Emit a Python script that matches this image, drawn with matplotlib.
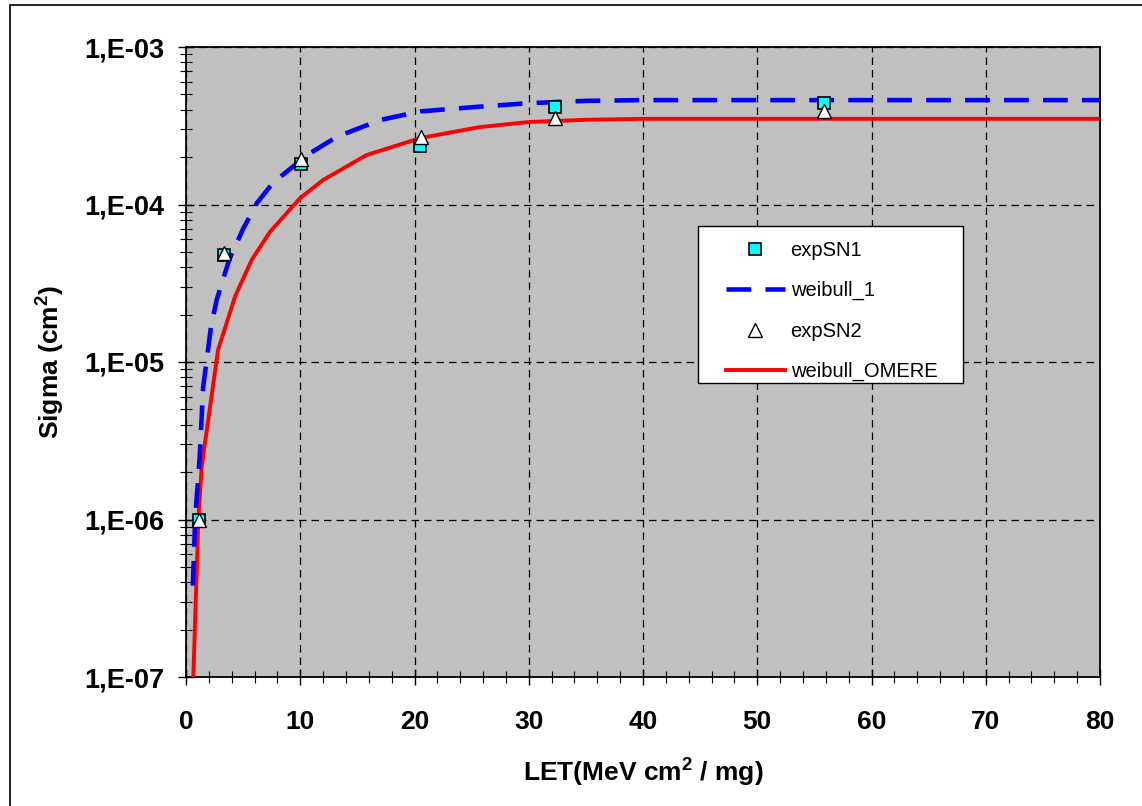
import numpy as np
import matplotlib
matplotlib.use('Agg')
import matplotlib.pyplot as plt
from matplotlib.patches import Rectangle
from matplotlib.ticker import FixedLocator, FixedFormatter, MultipleLocator

# experimental points (LET, sigma)
exp1_x = [1.1, 3.3, 10.1, 20.5, 32.3, 55.8]
exp1_y = [1.0e-6, 4.8e-5, 1.8e-4, 2.35e-4, 4.15e-4, 4.4e-4]
exp2_x = [1.1, 3.3, 10.1, 20.6, 32.3, 55.8]
exp2_y = [1.0e-6, 4.9e-5, 1.95e-4, 2.7e-4, 3.55e-4, 3.95e-4]

# weibull fits
wb1_x = [0.6, 0.8, 1.2, 1.5, 2.2, 2.7, 3.8, 5.0, 6.2, 7.6, 10.6, 13.2, 17.0, 20.5,
         25.7, 30.0, 35.0, 40.0, 50.0, 60.0, 70.0, 80.0]
wb1_y = [3.8e-7, 1.0e-6, 2.5e-6, 6.9e-6, 1.7e-5, 2.5e-5, 4.5e-5, 7.0e-5, 1.02e-4,
         1.37e-4, 2.06e-4, 2.69e-4, 3.44e-4, 3.9e-4, 4.18e-4, 4.4e-4, 4.55e-4,
         4.6e-4, 4.6e-4, 4.6e-4, 4.6e-4, 4.6e-4]
wbo_x = [0.64, 1.08, 1.37, 2.8, 4.29, 5.75, 7.35, 10.0, 12.0, 15.8, 20.5, 25.7,
         30.0, 35.0, 40.0, 50.0, 60.0, 70.0, 80.0]
wbo_y = [1.0e-7, 1.0e-6, 2.16e-6, 1.19e-5, 2.6e-5, 4.45e-5, 6.7e-5, 1.1e-4, 1.43e-4,
         2.06e-4, 2.64e-4, 3.1e-4, 3.34e-4, 3.45e-4, 3.5e-4, 3.5e-4, 3.5e-4, 3.5e-4, 3.5e-4]

ytick_vals = [1e-7, 1e-6, 1e-5, 1e-4, 1e-3]
ytick_labels = ['1,E-07', '1,E-06', '1,E-05', '1,E-04', '1,E-03']

plt.rcParams['font.family'] = ['Liberation Sans', 'DejaVu Sans']
plt.rcParams['mathtext.fontset'] = 'custom'
plt.rcParams['mathtext.rm'] = 'Liberation Sans:bold'
plt.rcParams['mathtext.bf'] = 'Liberation Sans:bold'
plt.rcParams['mathtext.it'] = 'Liberation Sans:bold'

W, H = 1142, 806
fig = plt.figure(figsize=(W/100, H/100), dpi=100)
# outer frame of the chart
fig.patches.append(Rectangle((10/W, -0.01), 1.05, 1 - 5/H + 0.01,
                             transform=fig.transFigure, fill=False,
                             edgecolor='black', linewidth=1.2))

ax = fig.add_axes([186/W, 1 - 677/H, (1100 - 186)/W, (677 - 47)/H])
ax.set_facecolor('#C0C0C0')

ax.plot(wbo_x, wbo_y, color='red', lw=2.8, label='weibull_OMERE', zorder=3)
l1, = ax.plot(wb1_x, wb1_y, color='blue', lw=3.3, label='weibull_1', zorder=3)
l1.set_dashes((5.4, 3.1))
ax.plot(exp1_x, exp1_y, 's', ms=9, mfc='#00FFFF', mec='black', mew=1.2,
        linestyle='none', label='expSN1', zorder=4)
ax.plot(exp2_x, exp2_y, '^', ms=10.5, mfc='white', mec='black', mew=1.0,
        linestyle='none', label='expSN2', zorder=5)

ax.set_yscale('log')
ax.set_ylim(1e-7, 1e-3)
ax.set_xlim(0, 80)

ax.yaxis.set_major_locator(FixedLocator(ytick_vals))
ax.yaxis.set_major_formatter(FixedFormatter(ytick_labels))
ax.xaxis.set_major_locator(MultipleLocator(10))
ax.xaxis.set_minor_locator(MultipleLocator(2))

ax.tick_params(axis='y', which='major', direction='inout', length=11.5, width=1,
               labelsize=19.5, pad=10)
ax.tick_params(axis='y', which='minor', direction='inout', length=8.5, width=0.8)
ax.tick_params(axis='x', which='major', direction='inout', length=12, width=1,
               labelsize=19, pad=18)
ax.tick_params(axis='x', which='minor', direction='inout', length=8.5, width=0.8)
for lab in ax.get_xticklabels() + ax.get_yticklabels():
    lab.set_fontweight('bold')

ax.grid(True, which='major', color='black', linestyle=(0, (6, 4)), linewidth=0.9)

for s in ax.spines.values():
    s.set_color('black')
    s.set_linewidth(1.3)

ax.set_xlabel('LET(MeV cm$^2$ / mg)', fontsize=19, fontweight='bold')
ax.xaxis.set_label_coords(0.5, -(773 - 677)/630)
ax.xaxis.label.set_va('center')
ax.set_ylabel('Sigma (cm$^2$)', fontsize=19, fontweight='bold')
ax.yaxis.set_label_coords((51 - 186)/914, 0.5)
ax.yaxis.label.set_va('center')

# legend box drawn separately so the padding matches
ax.add_patch(Rectangle((698/W, 1 - 383/H), (963 - 698)/W, (383 - 226)/H,
                       transform=fig.transFigure, facecolor='white',
                       edgecolor='black', linewidth=1.0, zorder=8, clip_on=False))
handles, labels = ax.get_legend_handles_labels()
order = [2, 1, 3, 0]
leg = ax.legend([handles[i] for i in order], [labels[i] for i in order],
                loc='upper left', bbox_to_anchor=(712/W, 1 - 227/H),
                bbox_transform=fig.transFigure, fontsize=14.5, frameon=False,
                handlelength=2.9, handletextpad=0.3, labelspacing=1.05,
                borderpad=0.7, borderaxespad=0)
leg.set_zorder(11)

fig.savefig('out.png', dpi=100)
